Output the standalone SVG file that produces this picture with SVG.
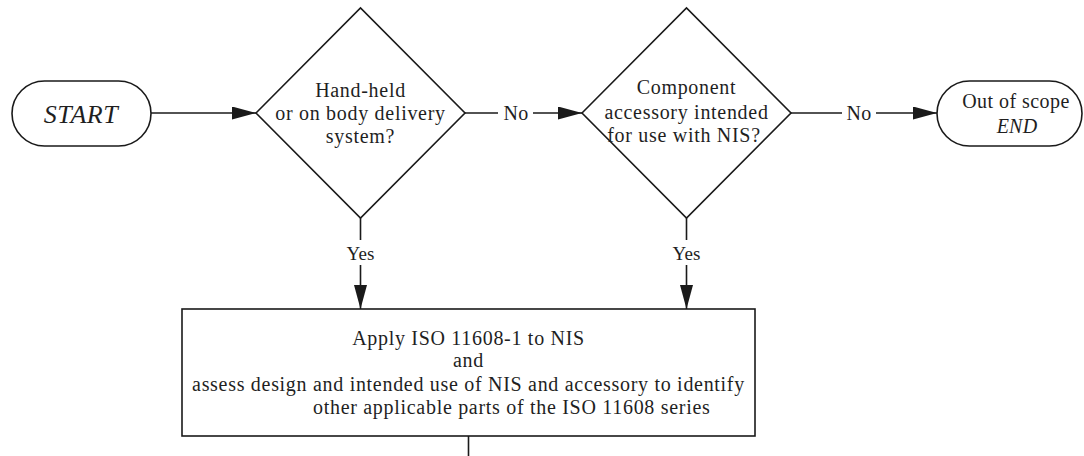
<svg xmlns="http://www.w3.org/2000/svg" width="1084" height="456" viewBox="0 0 1084 456">
  <style>
    .shape { fill: #ffffff; stroke: #1a1a1a; stroke-width: 1.6; }
    .conn { fill: none; stroke: #1a1a1a; stroke-width: 1.6; }
    .t { font-family: "Liberation Serif", "Times New Roman", serif; font-size: 20px; fill: #1f1f1f; text-anchor: middle; letter-spacing: 0.7px; }
    .lbl { letter-spacing: 0.2px; }
    .it { font-style: italic; }
  </style>
  <defs>
    <marker id="arrow" markerUnits="userSpaceOnUse" markerWidth="24" markerHeight="13" refX="24" refY="6.5" orient="auto">
      <path d="M0,0 L24,6.5 L0,13 Z" fill="#1a1a1a"/>
    </marker>
  </defs>
  <rect width="1084" height="456" fill="#ffffff"/>

  <g id="connectors">
    <line class="conn" x1="151" y1="113" x2="256" y2="113" marker-end="url(#arrow)"/>
    <line class="conn" x1="465" y1="113" x2="498" y2="113"/>
    <line class="conn" x1="533" y1="113" x2="582" y2="113" marker-end="url(#arrow)"/>
    <text class="t lbl" x="516" y="120">No</text>
    <line class="conn" x1="791" y1="113" x2="842" y2="113"/>
    <line class="conn" x1="876" y1="113" x2="937" y2="113" marker-end="url(#arrow)"/>
    <text class="t lbl" x="859" y="120">No</text>
    <line class="conn" x1="360.5" y1="218" x2="360.5" y2="240"/>
    <line class="conn" x1="360.5" y1="265" x2="360.5" y2="309" marker-end="url(#arrow)"/>
    <text class="t lbl" x="360.5" y="260" style="font-size:19px">Yes</text>
    <line class="conn" x1="686.5" y1="218" x2="686.5" y2="240"/>
    <line class="conn" x1="686.5" y1="265" x2="686.5" y2="309" marker-end="url(#arrow)"/>
    <text class="t lbl" x="686.5" y="260" style="font-size:19px">Yes</text>
    <line class="conn" x1="468.5" y1="436" x2="468.5" y2="456"/>
  </g>

  <g id="start">
    <rect class="shape" x="12" y="81" width="139" height="65" rx="32.5" ry="32.5"/>
    <text class="t it" x="81" y="123" style="font-size:26px;letter-spacing:0.5px">START</text>
  </g>

  <g id="decision1">
    <polygon class="shape" points="256,113 360.5,8 465,113 360.5,218"/>
    <text class="t" x="360.5" y="97">Hand-held</text>
    <text class="t" x="360.5" y="120">or on body delivery</text>
    <text class="t" x="360.5" y="143">system?</text>
  </g>

  <g id="decision2">
    <polygon class="shape" points="582,113 686.5,8 791,113 686.5,218"/>
    <text class="t" x="686.5" y="94">Component</text>
    <text class="t" x="686.5" y="119">accessory intended</text>
    <text class="t" x="684" y="142">for use with NIS?</text>
  </g>

  <g id="end">
    <rect class="shape" x="937" y="81" width="145" height="65" rx="32.5" ry="32.5"/>
    <text class="t" x="1016" y="108" style="letter-spacing:0.45px">Out of scope</text>
    <text class="t it lbl" x="1017" y="133">END</text>
  </g>

  <g id="apply">
    <rect class="shape" x="182" y="309" width="573" height="127"/>
    <text class="t" x="468.5" y="345">Apply ISO 11608-1 to NIS</text>
    <text class="t" x="468.5" y="367">and</text>
    <text class="t" x="468.5" y="391">assess design and intended use of NIS and accessory to identify</text>
    <text class="t" x="313" y="414" style="text-anchor:start">other applicable parts of the ISO 11608 series</text>
  </g>
</svg>
